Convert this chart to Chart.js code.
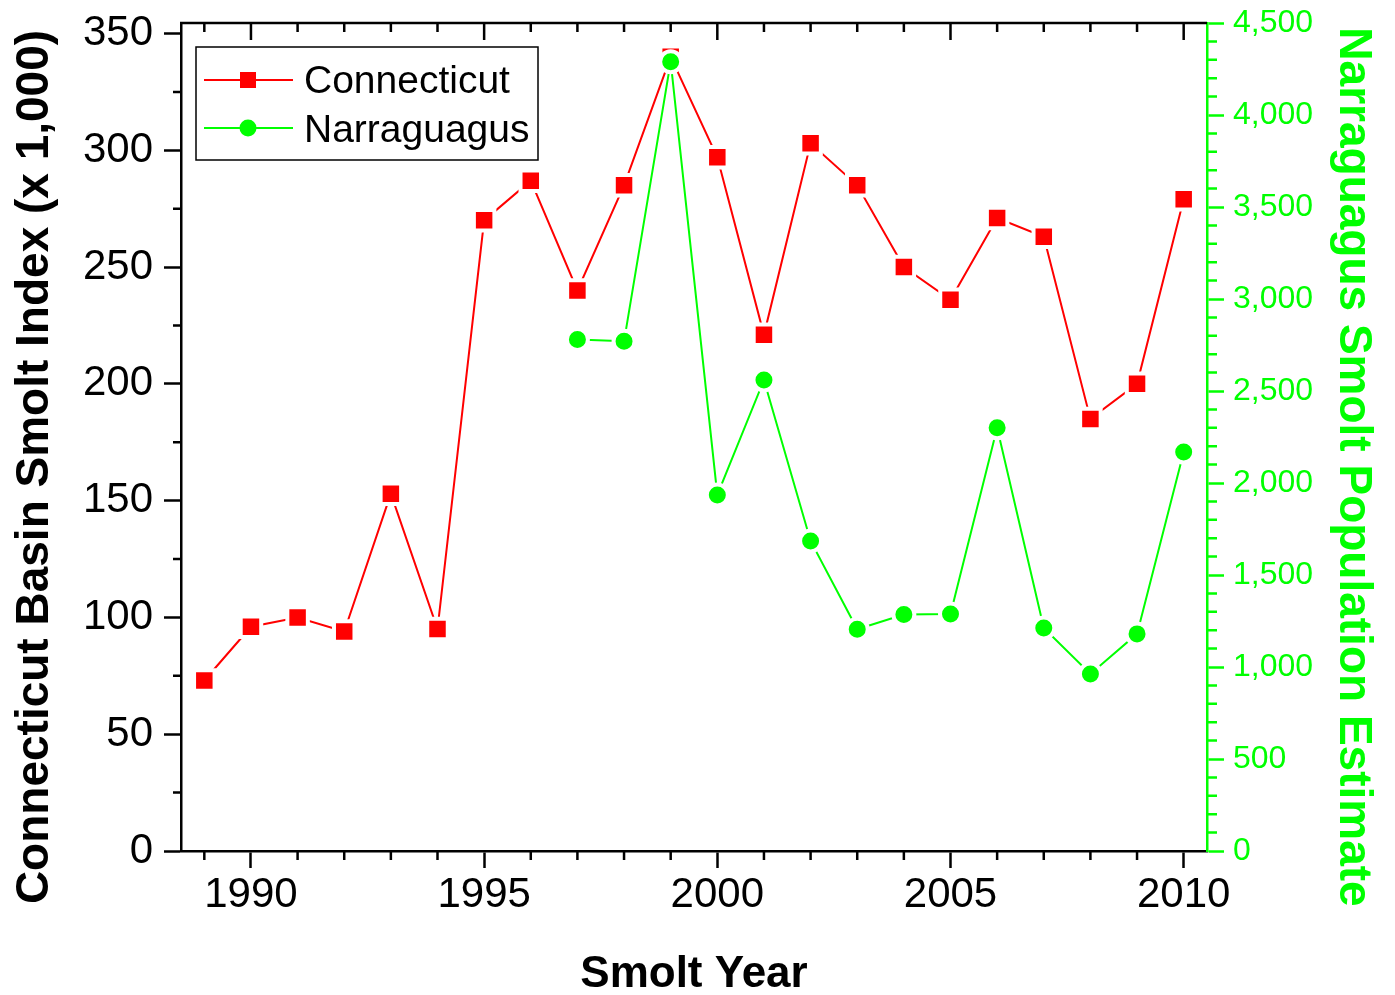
<!DOCTYPE html>
<html>
<head>
<meta charset="utf-8">
<title>Smolt Index</title>
<script src="https://cdn.jsdelivr.net/npm/chart.js@4.4.1/dist/chart.umd.min.js"></script>
<style>
    html, body { margin: 0; padding: 0; background: #fff; }
    #wrap { width: 1395px; height: 995px; position: relative; }
</style>
</head>
<body>
<div id="wrap"><canvas id="smoltChart"></canvas></div>
<script>
const FONT = "'Liberation Sans', Arial, Helvetica, sans-serif";
const RED = '#ff0000';
const GREEN = '#00ff00';

// values
const connYears = [1989, 1990, 1991, 1992, 1993, 1994, 1995, 1996, 1997, 1998, 1999,
    2000, 2001, 2002, 2003, 2004, 2005, 2006, 2007, 2008, 2009, 2010];
const connValues = [73, 96, 100, 94, 153, 95, 270, 287, 240, 285, 340,
    297, 221, 303, 285, 250, 236, 271, 263, 185, 200, 279];

const narrYears = [1997, 1998, 1999, 2000, 2001, 2002, 2003, 2004, 2005, 2006, 2007, 2008, 2009, 2010];
const narrValues = [2780, 2770, 4290, 1935, 2560, 1685, 1205, 1285, 1288, 2300, 1212, 962, 1180, 2168];

// axes
const xTicks = [1990, 1995, 2000, 2005, 2010];
const leftTicks = [0, 50, 100, 150, 200, 250, 300, 350];
const rightTicks = [0, 500, 1000, 1500, 2000, 2500, 3000, 3500, 4000, 4500];
const xMinorStep = 1;
const leftMinorStep = 25;
const rightMinorStep = 100;

const toPoints = (xs, ys) => xs.map((x, i) => ({ x, y: ys[i] }));

// keep the plot box fixed, labels may hang over it
function fixBox(s, w, h) {
    if (w) s.width = w;
    if (h) s.height = h;
    s.paddingTop = 0;
    s.paddingBottom = 0;
    s.paddingLeft = 0;
    s.paddingRight = 0;
}

// minor ticks, top frame, titles and legend
const extras = {
    id: 'extras',
    afterDraw(chart) {
        const { ctx, chartArea: a, scales } = chart;
        const sx = scales.x, sl = scales.y, sr = scales.y1;
        ctx.save();
        ctx.lineWidth = 2.5;
        ctx.strokeStyle = '#000';
        ctx.beginPath();
        ctx.moveTo(a.left - 1, a.top);
        ctx.lineTo(a.right, a.top);
        for (let yr = Math.ceil(sx.min); yr <= sx.max; yr += xMinorStep) {
            const px = sx.getPixelForValue(yr);
            const major = xTicks.includes(yr);
            if (!major) {
                ctx.moveTo(px, a.bottom);
                ctx.lineTo(px, a.bottom + 9);
            }
            ctx.moveTo(px, a.top);
            ctx.lineTo(px, a.top + (major ? 17 : 9));
        }
        for (let v = leftMinorStep; v < leftTicks[leftTicks.length - 1]; v += leftMinorStep) {
            if (leftTicks.includes(v)) continue;
            const py = sl.getPixelForValue(v);
            ctx.moveTo(a.left, py);
            ctx.lineTo(a.left - 8, py);
        }
        ctx.stroke();

        ctx.strokeStyle = GREEN;
        ctx.beginPath();
        for (let v = rightMinorStep; v < rightTicks[rightTicks.length - 1]; v += rightMinorStep) {
            if (rightTicks.includes(v)) continue;
            const py = sr.getPixelForValue(v);
            ctx.moveTo(a.right, py);
            ctx.lineTo(a.right + 10, py);
        }
        ctx.stroke();

        // axis titles
        ctx.textAlign = 'center';
        ctx.textBaseline = 'alphabetic';
        ctx.font = `bold 46px ${FONT}`;
        ctx.fillStyle = '#000';
        ctx.save();
        ctx.translate(48, 467);
        ctx.rotate(-Math.PI / 2);
        ctx.fillText('Connecticut Basin Smolt Index (x 1,000)', 0, 0);
        ctx.restore();

        ctx.fillStyle = GREEN;
        ctx.save();
        ctx.translate(1340, 467);
        ctx.rotate(Math.PI / 2);
        ctx.fillText('Narraguagus Smolt Population Estimate', 0, 0);
        ctx.restore();

        ctx.fillStyle = '#000';
        ctx.font = `bold 44px ${FONT}`;
        ctx.fillText('Smolt Year', (a.left + a.right) / 2, 987);

        // legend box
        ctx.lineWidth = 1.5;
        ctx.strokeStyle = '#000';
        ctx.strokeRect(196, 47, 342, 113);
        ctx.font = `39px ${FONT}`;
        ctx.textAlign = 'left';
        const rows = [{ ds: chart.data.datasets[0], y: 80, base: 93 }, { ds: chart.data.datasets[1], y: 128, base: 142 }];
        rows.forEach((r) => {
            ctx.strokeStyle = r.ds.borderColor;
            ctx.lineWidth = 2;
            ctx.beginPath();
            ctx.moveTo(204, r.y);
            ctx.lineTo(293, r.y);
            ctx.stroke();
            ctx.fillStyle = r.ds.borderColor;
            ctx.beginPath();
            if (r.ds.pointStyle === 'rect') {
                ctx.rect(240, r.y - 8, 16, 16);
            } else {
                ctx.arc(248, r.y, 8.5, 0, Math.PI * 2);
            }
            ctx.fill();
            ctx.fillStyle = '#000';
            ctx.fillText(r.ds.label, 304, r.base);
        });
        ctx.restore();
    }
};

new Chart(document.getElementById('smoltChart'), {
    type: 'line',
    data: {
        datasets: [
            {
                label: 'Connecticut',
                data: toPoints(connYears, connValues),
                yAxisID: 'y',
                order: 2,
                borderColor: RED,
                backgroundColor: RED,
                borderWidth: 2,
                pointStyle: 'rect',
                pointRadius: 14.5,
                pointBorderColor: '#fff',
                pointBorderWidth: 4,
                pointBackgroundColor: RED,
                tension: 0
            },
            {
                label: 'Narraguagus',
                data: toPoints(narrYears, narrValues),
                yAxisID: 'y1',
                order: 1,
                borderColor: GREEN,
                backgroundColor: GREEN,
                borderWidth: 2,
                pointStyle: 'circle',
                pointRadius: 10.5,
                pointBorderColor: '#fff',
                pointBorderWidth: 4,
                pointBackgroundColor: GREEN,
                tension: 0
            }
        ]
    },
    options: {
        responsive: true,
        maintainAspectRatio: false,
        animation: false,
        events: [],
        layout: { padding: { top: 23, left: 0, right: 0, bottom: 0 } },
        plugins: {
            legend: { display: false },
            tooltip: { enabled: false }
        },
        scales: {
            x: {
                type: 'linear',
                position: 'bottom',
                min: 1988.5,
                max: 2010.5,
                afterBuildTicks: (s) => { s.ticks = xTicks.map((v) => ({ value: v })); },
                afterFit: (s) => fixBox(s, 0, 144),
                border: { display: true, color: '#000', width: 2.5 },
                grid: { drawOnChartArea: false, tickLength: 17, tickWidth: 2.5, tickColor: '#000' },
                ticks: {
                    autoSkip: false,
                    maxRotation: 0,
                    padding: 2,
                    color: '#000',
                    font: { family: FONT, size: 42 },
                    callback: (v) => String(v)
                }
            },
            y: {
                position: 'left',
                min: 0,
                max: 354.5,
                afterBuildTicks: (s) => { s.ticks = leftTicks.map((v) => ({ value: v })); },
                afterFit: (s) => fixBox(s, 181, 0),
                border: { display: true, color: '#000', width: 2.5 },
                grid: { drawOnChartArea: false, tickLength: 17, tickWidth: 2.5, tickColor: '#000' },
                ticks: {
                    padding: 11,
                    color: '#000',
                    font: { family: FONT, size: 42 },
                    callback: (v) => String(v)
                }
            },
            y1: {
                position: 'right',
                min: 0,
                max: 4500,
                afterBuildTicks: (s) => { s.ticks = rightTicks.map((v) => ({ value: v })); },
                afterFit: (s) => fixBox(s, 188, 0),
                border: { display: true, color: GREEN, width: 2.5 },
                grid: { drawOnChartArea: false, tickLength: 17, tickWidth: 2.5, tickColor: GREEN },
                ticks: {
                    padding: 9,
                    color: GREEN,
                    font: { family: FONT, size: 32 },
                    callback: (v) => v.toLocaleString('en-US')
                }
            }
        }
    },
    plugins: [extras]
});
</script>
</body>
</html>
